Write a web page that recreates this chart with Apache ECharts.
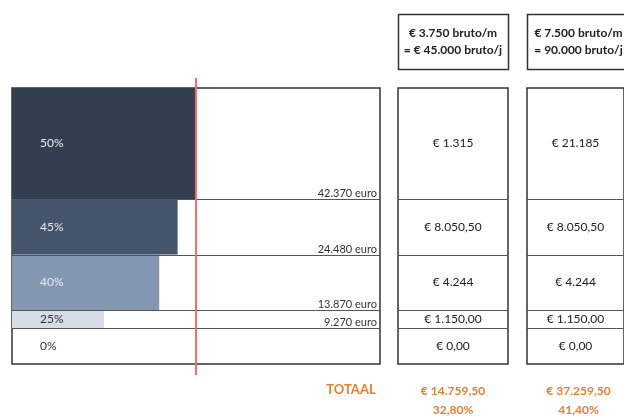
<!DOCTYPE html>
<html>
<head>
<meta charset="utf-8">
<script src="https://cdn.jsdelivr.net/npm/echarts@6/dist/echarts.min.js"></script>
<style>html,body{margin:0;background:#fff}#chart{width:624px;height:416px}</style>
</head>
<body>
<div id="chart"></div>
<script>
// schijven, van onder naar boven
var rates = [0, 25, 40, 45, 50];
var rateLabels = ['0%', '25%', '40%', '45%', '50%'];
var thresholds = ['', '9.270 euro', '13.870 euro', '24.480 euro', '42.370 euro'];
var headers = [
  ['€ 3.750 bruto/m', '= € 45.000 bruto/j'],
  ['€ 7.500 bruto/m', '= 90.000 bruto/j']
];
var taxCol1 = ['€ 0,00', '€ 1.150,00', '€ 4.244', '€ 8.050,50', '€ 1.315'];
var taxCol2 = ['€ 0,00', '€ 1.150,00', '€ 4.244', '€ 8.050,50', '€ 21.185'];
var totals = ['€ 14.759,50', '€ 37.259,50'];
var totalPct = ['32,80%', '41,40%'];
var markRate = 50;

// layout (niet data): hoogte van de rijen op een verborgen as
var bandEdges = [0, 36, 54, 109.5, 165, 276];
var bandColors = ['#ffffff', '#d6dce5', '#8497b0', '#44546a', '#333f50'];
var labelColors = ['#333333', '#333333', '#e8ebf0', '#e8ebf0', '#e8ebf0'];
var FONT = 'Lato, "Open Sans", sans-serif';
var ORANGE = '#ed7d31';
var cols = [{ left: 398, width: 110 }, { left: 527, width: 103 }];

var bandData = rates.map(function (r, i) { return [bandEdges[i], bandEdges[i + 1], r]; });
var cellData = rates.map(function (r, i) { return [bandEdges[i], bandEdges[i + 1]]; });

function hline(x1, x2, y) {
  var yy = Math.round(y) + 0.5;
  return { type: 'line', shape: { x1: x1, y1: yy, x2: x2, y2: yy }, style: { stroke: '#555', lineWidth: 1 } };
}

function renderBand(params, api) {
  var i = params.dataIndex;
  var lo = api.value(0), hi = api.value(1), rate = api.value(2);
  var pLo = api.coord([0, lo]);
  var pHi = api.coord([rate, hi]);
  var right = api.coord([100, hi])[0];
  var kids = [];
  if (rate > 0) {
    kids.push({ type: 'rect', shape: { x: pLo[0], y: pHi[1], width: pHi[0] - pLo[0], height: pLo[1] - pHi[1] },
      style: { fill: bandColors[i] } });
  }
  if (i < rates.length - 1) kids.push(hline(pLo[0], right, pHi[1]));
  kids.push({ type: 'text', x: pLo[0] + 28, y: (pLo[1] + pHi[1]) / 2,
    style: { text: rateLabels[i], fill: labelColors[i], font: '12px ' + FONT, verticalAlign: 'middle' } });
  if (thresholds[i]) {
    kids.push({ type: 'text', x: right - 3, y: pLo[1],
      style: { text: thresholds[i], fill: '#333', font: '11px ' + FONT, align: 'right', verticalAlign: 'bottom' } });
  }
  return { type: 'group', children: kids };
}

function cellRenderer(values) {
  return function (params, api) {
    var i = params.dataIndex;
    var lo = api.value(0), hi = api.value(1);
    var pLo = api.coord([0, lo]);
    var pHi = api.coord([1, hi]);
    var kids = [];
    if (i < values.length - 1) kids.push(hline(pLo[0], pHi[0], pHi[1]));
    kids.push({ type: 'text', x: (pLo[0] + pHi[0]) / 2, y: (pLo[1] + pHi[1]) / 2,
      style: { text: values[i], fill: '#222', font: '12px ' + FONT, align: 'center', verticalAlign: 'middle' } });
    return { type: 'group', children: kids };
  };
}

var graphics = [];
cols.forEach(function (c, k) {
  var cx = c.left + c.width / 2;
  graphics.push({ type: 'rect', shape: { x: c.left + 0.5, y: 14.5, width: c.width, height: 55 },
    style: { fill: '#fff', stroke: '#333', lineWidth: 1.5 } });
  graphics.push({ type: 'text', x: cx, y: 33, style: { text: headers[k][0], fill: '#222',
    font: 'bold 12px ' + FONT, align: 'center', verticalAlign: 'middle' } });
  graphics.push({ type: 'text', x: cx, y: 50, style: { text: headers[k][1], fill: '#222',
    font: 'bold 12px ' + FONT, align: 'center', verticalAlign: 'middle' } });
  graphics.push({ type: 'text', x: cx, y: 391, style: { text: totals[k], fill: ORANGE,
    font: 'bold 12px ' + FONT, align: 'center', verticalAlign: 'middle' } });
  graphics.push({ type: 'text', x: cx, y: 410, style: { text: totalPct[k], fill: ORANGE,
    font: 'bold 12px ' + FONT, align: 'center', verticalAlign: 'middle' } });
});
graphics.push({ type: 'text', x: 351, y: 390, style: { text: 'TOTAAL', fill: ORANGE,
  font: 'bold 13px ' + FONT, align: 'center', verticalAlign: 'middle' } });

var gridBase = { top: 88, height: 276, show: true, borderColor: '#333', borderWidth: 1.5, backgroundColor: 'transparent' };
var chart = echarts.init(document.getElementById('chart'));
chart.setOption({
  animation: false,
  grid: [
    Object.assign({ left: 12, width: 368 }, gridBase),
    Object.assign({ left: cols[0].left, width: cols[0].width }, gridBase),
    Object.assign({ left: cols[1].left, width: cols[1].width }, gridBase),
    { left: 12, width: 368, top: 78, height: 297, show: false }
  ],
  xAxis: [
    { gridIndex: 0, type: 'value', min: 0, max: 100, show: false },
    { gridIndex: 1, type: 'value', min: 0, max: 1, show: false },
    { gridIndex: 2, type: 'value', min: 0, max: 1, show: false },
    { gridIndex: 3, type: 'value', min: 0, max: 100, show: false }
  ],
  yAxis: [
    { gridIndex: 0, type: 'value', min: 0, max: 276, show: false },
    { gridIndex: 1, type: 'value', min: 0, max: 276, show: false },
    { gridIndex: 2, type: 'value', min: 0, max: 276, show: false },
    { gridIndex: 3, type: 'value', min: 0, max: 1, show: false }
  ],
  graphic: graphics,
  series: [
    { type: 'custom', xAxisIndex: 0, yAxisIndex: 0, data: bandData, renderItem: renderBand },
    { type: 'custom', xAxisIndex: 1, yAxisIndex: 1, data: cellData, renderItem: cellRenderer(taxCol1) },
    { type: 'custom', xAxisIndex: 2, yAxisIndex: 2, data: cellData, renderItem: cellRenderer(taxCol2) },
    { type: 'line', xAxisIndex: 3, yAxisIndex: 3, data: [[markRate, 0], [markRate, 1]], symbol: 'none',
      lineStyle: { color: '#f76b6b', width: 2 }, z: 10 }
  ]
});
</script>
</body>
</html>
